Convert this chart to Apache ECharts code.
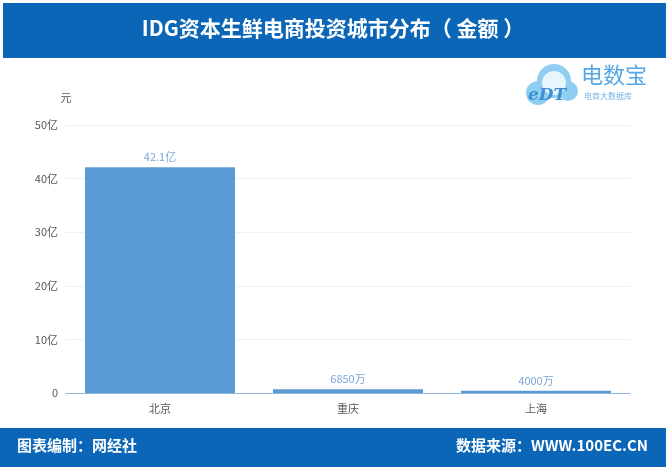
<!DOCTYPE html>
<html>
<head>
<meta charset="utf-8">
<script src="https://cdn.jsdelivr.net/npm/echarts@6/dist/echarts.min.js"></script>
<style>
  html, body { margin: 0; padding: 0; background: #fff; }
  #chart { width: 666px; height: 467px; }
</style>
</head>
<body>
<div id="chart"></div>
<script>
// 数据
const cities = ['北京', '重庆', '上海']
const amounts = [42.1, 0.685, 0.4] // 单位：亿元
const amountLabels = ['42.1亿', '6850万', '4000万']
const yTicks = ['0', '10亿', '20亿', '30亿', '40亿', '50亿']

const FONT = '"Noto Sans CJK SC", "Microsoft YaHei", sans-serif'
const BLUE = '#0b66b8'

let myChart = echarts.init(document.getElementById('chart'))

let option = {
    animation: false,
    textStyle: { fontFamily: FONT },
    grid: {
        left: 66,
        right: 36,
        top: 125,
        bottom: 74,
    },
    xAxis: {
        type: 'category',
        data: cities,
        axisTick: { show: false },
        axisLine: {
            lineStyle: { color: '#8db5dd', width: 1 },
        },
        axisLabel: {
            color: '#555',
            fontSize: 11,
            margin: 10,
        },
    },
    yAxis: {
        type: 'value',
        name: '元',
        nameGap: 22,
        nameTextStyle: { color: '#555', fontSize: 11, align: 'center' },
        min: 0,
        max: 50,
        interval: 10,
        axisLine: { show: false },
        axisTick: { show: false },
        splitLine: {
            lineStyle: { color: '#f0f0f0', width: 1 },
        },
        axisLabel: {
            color: '#555',
            fontSize: 11,
            margin: 8,
            formatter: (v) => yTicks[v / 10],
        },
    },
    series: [
        {
            type: 'bar',
            data: amounts,
            barWidth: 150,
            itemStyle: { color: '#5b9bd5' },
            label: {
                show: true,
                position: 'top',
                distance: 5,
                color: '#7ba6d6',
                fontSize: 11,
                formatter: (p) => amountLabels[p.dataIndex],
            },
        },
    ],
    graphic: [
        // 标题栏
        {
            type: 'rect',
            left: 3,
            top: 3,
            shape: { width: 663, height: 55 },
            style: { fill: BLUE },
            z: 0,
        },
        {
            type: 'text',
            left: 'center',
            top: 18,
            style: {
                text: 'IDG资本生鲜电商投资城市分布（ 金额 ）',
                fill: '#fff',
                font: 'bold 21px ' + FONT,
            },
        },
        // 底栏
        {
            type: 'rect',
            left: 0,
            top: 428,
            shape: { width: 666, height: 39 },
            style: { fill: BLUE },
        },
        {
            type: 'text',
            left: 17,
            top: 438,
            style: {
                text: '图表编制：网经社',
                fill: '#fff',
                font: 'bold 15px ' + FONT,
            },
        },
        {
            type: 'text',
            right: 18,
            top: 438,
            style: {
                text: '数据来源：WWW.100EC.CN',
                fill: '#fff',
                font: 'bold 15px ' + FONT,
            },
        },
        // 电数宝 logo
        {
            type: 'group',
            left: 526,
            top: 64,
            children: [
                { type: 'circle', shape: { cx: 14, cy: 32, r: 12 }, style: { fill: '#8fcdf2' } },
                { type: 'circle', shape: { cx: 30, cy: 20, r: 17 }, style: { fill: '#8fcdf2' } },
                { type: 'circle', shape: { cx: 44, cy: 30, r: 10 }, style: { fill: '#8fcdf2' } },
                { type: 'circle', shape: { cx: 30, cy: 22, r: 12 }, style: { fill: '#e8f5fd' } },
                {
                    type: 'text',
                    x: 4,
                    y: 26,
                    style: {
                        text: 'eDT',
                        fill: '#3c8fd4',
                        font: 'italic bold 17px "DejaVu Serif", serif',
                    },
                },
                {
                    type: 'text',
                    x: 57,
                    y: 3,
                    style: {
                        text: '电数宝',
                        fill: '#55a6e4',
                        font: '22px ' + FONT,
                    },
                },
                {
                    type: 'text',
                    x: 60,
                    y: 31,
                    style: {
                        text: '电商大数据库',
                        fill: '#7ab5e6',
                        font: '8px ' + FONT,
                    },
                },
            ],
        },
    ],
}

myChart.setOption(option)
window.addEventListener('resize', myChart.resize)
</script>
</body>
</html>
